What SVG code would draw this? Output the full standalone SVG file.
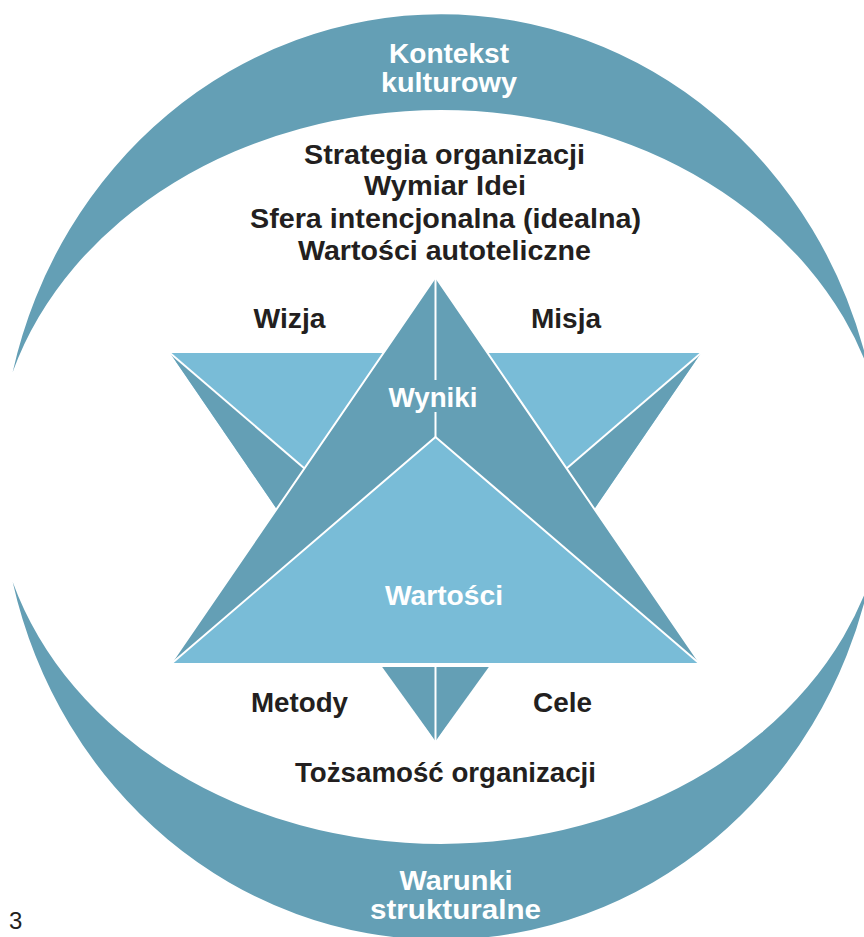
<svg xmlns="http://www.w3.org/2000/svg" width="864" height="937" viewBox="0 0 864 937">
<style>
.dark{fill:#649fb5}
.light{fill:#79bcd7}
.wl{stroke:#ffffff;stroke-width:2;fill:none;stroke-linecap:butt}
.t{font-family:"Liberation Sans",Arial,sans-serif;font-weight:bold;font-size:28px;text-anchor:middle}
.k{fill:#231f20}
.w{fill:#ffffff}
</style>
<rect width="864" height="937" fill="#ffffff"/>
<g id="crescent-top">
<path class="dark" d="M12.7,372 A440,464 0 0 1 869.3,372 A447,367 0 0 0 12.7,372 Z"/>
<text class="t w" x="449" y="63" textLength="120" lengthAdjust="spacingAndGlyphs">Kontekst</text>
<text class="t w" x="449" y="92" textLength="136" lengthAdjust="spacingAndGlyphs">kulturowy</text>
</g>
<g id="crescent-bottom">
<path class="dark" d="M12.7,582 A440,464 0 0 0 869.3,582 A447,367 0 0 1 12.7,582 Z"/>
<text class="t w" x="456" y="890" textLength="113" lengthAdjust="spacingAndGlyphs">Warunki</text>
<text class="t w" x="455.5" y="918.5" textLength="171" lengthAdjust="spacingAndGlyphs">strukturalne</text>
</g>
<g id="strategy-text">
<text class="t k" x="444.5" y="163.5" textLength="281" lengthAdjust="spacingAndGlyphs">Strategia organizacji</text>
<text class="t k" x="445" y="195" textLength="162" lengthAdjust="spacingAndGlyphs">Wymiar Idei</text>
<text class="t k" x="445.5" y="227.5" textLength="391" lengthAdjust="spacingAndGlyphs">Sfera intencjonalna (idealna)</text>
<text class="t k" x="444.5" y="259.5" textLength="293" lengthAdjust="spacingAndGlyphs">Wartości autoteliczne</text>
</g>
<g id="star-down">
<polygon class="light" points="170,353 701,353 435.5,741"/>
<polygon id="fold-left" class="dark" points="170,353 304.5,468.4 276.7,509"/>
<polygon id="fold-right" class="dark" points="701,353 566.5,468.4 594.3,509"/>
<polygon id="tip-bottom" class="dark" points="380,664 491,664 435.5,741"/>
<line class="wl" x1="170" y1="353" x2="304.5" y2="468.4"/>
<line class="wl" x1="701" y1="353" x2="566.5" y2="468.4"/>
</g>
<g id="star-up">
<polygon class="dark" points="435.5,277 170.5,664 700.5,664" stroke="#ffffff" stroke-width="2" stroke-linejoin="bevel"/>
<line class="wl" x1="435.5" y1="277" x2="435.5" y2="380"/>
<line class="wl" x1="435.5" y1="412" x2="435.5" y2="437"/>
<text class="t w" x="433" y="407" textLength="89" lengthAdjust="spacingAndGlyphs">Wyniki</text>
</g>
<g id="wartosci">
<polygon class="light" points="435.5,437 171,664 700,664" stroke="#ffffff" stroke-width="2" stroke-linejoin="miter"/>
<text class="t w" x="444" y="604.5" textLength="118" lengthAdjust="spacingAndGlyphs">Wartości</text>
</g>
<g id="bottom-lines">
<line x1="370" y1="665.5" x2="500" y2="665.5" stroke="#ffffff" stroke-width="3"/>
<line class="wl" x1="435.5" y1="664" x2="435.5" y2="742"/>
</g>
<g id="labels">
<text class="t k" x="289.5" y="328" textLength="72" lengthAdjust="spacingAndGlyphs">Wizja</text>
<text class="t k" x="566" y="328" textLength="70" lengthAdjust="spacingAndGlyphs">Misja</text>
<text class="t k" x="299.5" y="712" textLength="97" lengthAdjust="spacingAndGlyphs">Metody</text>
<text class="t k" x="562.5" y="712" textLength="59" lengthAdjust="spacingAndGlyphs">Cele</text>
<text class="t k" x="445.5" y="782" textLength="301" lengthAdjust="spacingAndGlyphs">Tożsamość organizacji</text>
</g>
<g id="connectors"/>
<text x="9" y="929" style="font-family:'Liberation Sans',Arial,sans-serif;font-size:24px;fill:#231f20">3</text>
</svg>
